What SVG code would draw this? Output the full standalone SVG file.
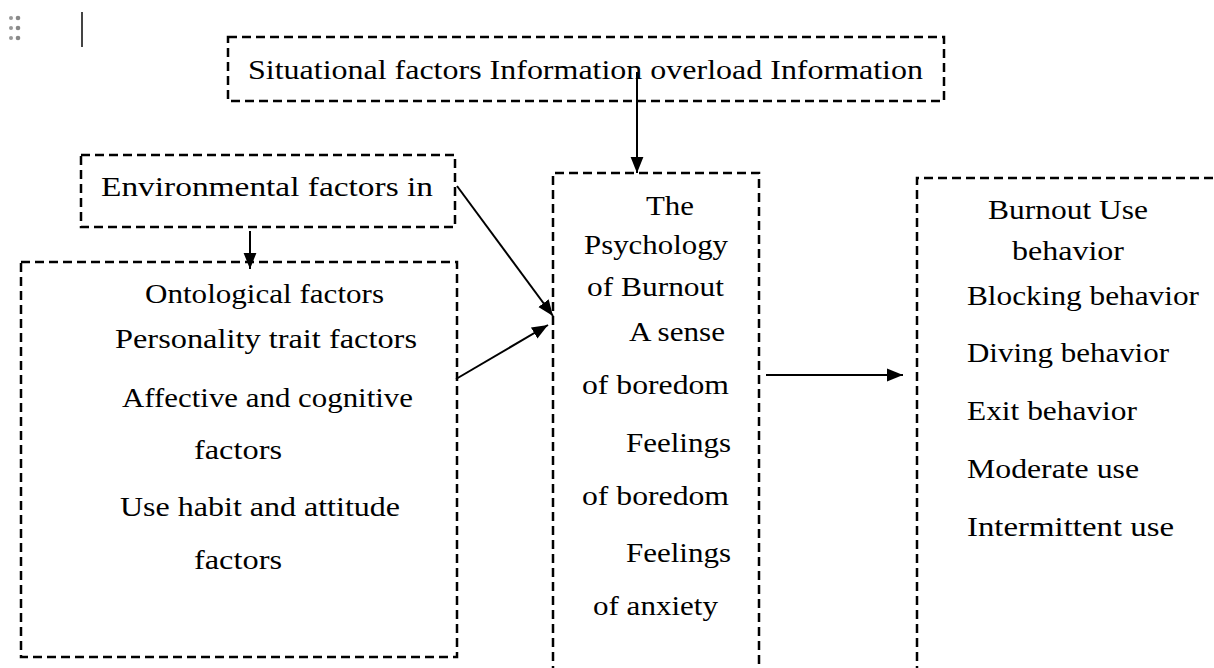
<svg xmlns="http://www.w3.org/2000/svg" width="1214" height="668" viewBox="0 0 1214 668">
<style>
.box{fill:none;stroke:#000;stroke-width:2.5;stroke-dasharray:9 5}
.t{font-family:"Liberation Serif","DejaVu Serif",serif;font-size:27px;fill:#000}
.c{stroke:#000;stroke-width:2;fill:none;marker-end:url(#ah2)}
</style>
<defs>
<marker id="ah2" viewBox="0 0 10 10" refX="10" refY="5" markerWidth="16" markerHeight="16" markerUnits="userSpaceOnUse" orient="auto">
<path d="M0,1 L10,5 L0,9 z" fill="#000"/>
</marker>
</defs>
<rect width="1214" height="668" fill="#fff"/>
<g id="ui">
<circle cx="11" cy="18" r="2" fill="#999"/><circle cx="18" cy="18" r="2.3" fill="#888"/>
<circle cx="11" cy="28" r="2" fill="#999"/><circle cx="18" cy="28" r="2.3" fill="#888"/>
<circle cx="11" cy="38" r="2" fill="#999"/><circle cx="18" cy="38" r="2.3" fill="#888"/>
<line x1="82" y1="12" x2="82" y2="47" stroke="#444" stroke-width="2"/>
</g>
<g id="connectors">
<line class="c" x1="637" y1="72" x2="637" y2="173"/>
<line class="c" x1="250" y1="231" x2="250" y2="269"/>
<line class="c" x1="457" y1="186" x2="553" y2="316"/>
<line class="c" x1="456" y1="379" x2="548" y2="325"/>
<line class="c" x1="766" y1="375" x2="903" y2="375"/>
</g>
<g id="situational">
<rect class="box" x="228" y="37" width="716" height="64"/>
<text class="t" x="248" y="79" textLength="675" lengthAdjust="spacingAndGlyphs">Situational factors Information overload Information</text>
</g>
<g id="environmental">
<rect class="box" x="81" y="155" width="374" height="72"/>
<text class="t" x="101" y="196" textLength="332" lengthAdjust="spacingAndGlyphs">Environmental  factors  in</text>
</g>
<g id="ontological">
<rect class="box" x="21" y="262" width="436" height="395"/>
<text class="t" x="145" y="303" textLength="239" lengthAdjust="spacingAndGlyphs">Ontological factors</text>
<text class="t" x="115" y="348" textLength="302" lengthAdjust="spacingAndGlyphs">Personality trait factors</text>
<text class="t" x="122" y="407" textLength="291" lengthAdjust="spacingAndGlyphs">Affective and cognitive</text>
<text class="t" x="194" y="459" textLength="88" lengthAdjust="spacingAndGlyphs">factors</text>
<text class="t" x="120" y="516" textLength="280" lengthAdjust="spacingAndGlyphs">Use habit and attitude</text>
<text class="t" x="194" y="569" textLength="88" lengthAdjust="spacingAndGlyphs">factors</text>
</g>
<g id="psychology">
<path class="box" d="M553,675 V173 H759 V675"/>
<text class="t" x="646" y="215" textLength="48" lengthAdjust="spacingAndGlyphs">The</text>
<text class="t" x="584" y="254" textLength="144" lengthAdjust="spacingAndGlyphs">Psychology</text>
<text class="t" x="587" y="296" textLength="137" lengthAdjust="spacingAndGlyphs">of Burnout</text>
<text class="t" x="629" y="341" textLength="96" lengthAdjust="spacingAndGlyphs">A sense</text>
<text class="t" x="582" y="394" textLength="147" lengthAdjust="spacingAndGlyphs">of boredom</text>
<text class="t" x="626" y="452" textLength="105" lengthAdjust="spacingAndGlyphs">Feelings</text>
<text class="t" x="582" y="505" textLength="147" lengthAdjust="spacingAndGlyphs">of boredom</text>
<text class="t" x="626" y="562" textLength="105" lengthAdjust="spacingAndGlyphs">Feelings</text>
<text class="t" x="593" y="615" textLength="125" lengthAdjust="spacingAndGlyphs">of anxiety</text>
</g>
<g id="burnout-use">
<path class="box" d="M917,675 V178 H1220"/>
<text class="t" x="988" y="219" textLength="160" lengthAdjust="spacingAndGlyphs">Burnout Use</text>
<text class="t" x="1012" y="260" textLength="112" lengthAdjust="spacingAndGlyphs">behavior</text>
<text class="t" x="967" y="305" textLength="232" lengthAdjust="spacingAndGlyphs">Blocking behavior</text>
<text class="t" x="967" y="362" textLength="202" lengthAdjust="spacingAndGlyphs">Diving behavior</text>
<text class="t" x="967" y="420" textLength="170" lengthAdjust="spacingAndGlyphs">Exit behavior</text>
<text class="t" x="967" y="478" textLength="172" lengthAdjust="spacingAndGlyphs">Moderate use</text>
<text class="t" x="967" y="536" textLength="207" lengthAdjust="spacingAndGlyphs">Intermittent use</text>
</g>
</svg>
